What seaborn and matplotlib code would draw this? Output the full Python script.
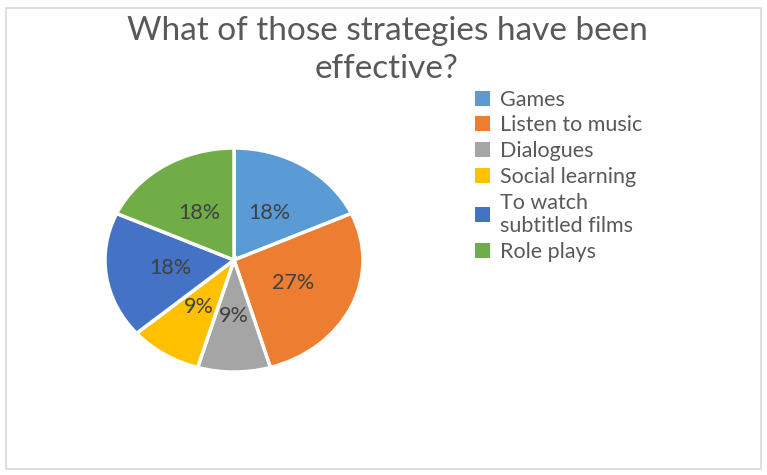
import matplotlib
matplotlib.use("Agg")
import matplotlib.pyplot as plt
from matplotlib.patches import Rectangle, Patch
import seaborn as sns

sns.set_theme(style="white")
plt.rcParams["font.family"] = ["Lato", "DejaVu Sans"]

# Survey answers: number of respondents naming each strategy as effective
categories = ["Games", "Listen to music", "Dialogues", "Social learning",
              "To watch\nsubtitled films", "Role plays"]
counts = [2, 3, 1, 1, 2, 2]
colors = ["#5B9BD5", "#ED7D31", "#A5A5A5", "#FFC000", "#4472C4", "#70AD47"]
title = "What of those strategies have been\neffective?"

W, H = 767, 475
fig = plt.figure(figsize=(W / 100, H / 100), dpi=100)
fig.patch.set_facecolor("white")

# light chart-area frame
fig.add_artist(Rectangle((6 / W, 1 - 469 / H), 755 / W, 461 / H,
                         transform=fig.transFigure, fill=False,
                         edgecolor="#D9D9D9", linewidth=1.2))

fig.text(387 / W, 1 - 50 / H, title, ha="center", va="center",
         fontsize=24, color="#595959", linespacing=1.32)

ax = fig.add_axes([105 / W, 1 - 372 / H, 258 / W, 224 / H])
wedges, texts, autotexts = ax.pie(
    counts, colors=colors, startangle=90, counterclock=False,
    autopct="%1.0f%%", pctdistance=0.5,
    wedgeprops=dict(edgecolor="white", linewidth=2.5),
    textprops=dict(fontsize=15.5, color="#404040"))
ax.set_aspect("auto")
ax.set_xlim(-1, 1)
ax.set_ylim(-1, 1)
ax.axis("off")

handles = [Patch(facecolor=c, edgecolor="none") for c in colors]
fig.legend(handles, categories, loc="upper left",
           bbox_to_anchor=(466 / W, 1 - 81 / H), frameon=False,
           fontsize=15.5, labelcolor="#595959", handlelength=0.7,
           handleheight=0.7, handletextpad=0.5, labelspacing=0.27,
           borderaxespad=0)

fig.savefig("out.png", dpi=100, facecolor="white")
